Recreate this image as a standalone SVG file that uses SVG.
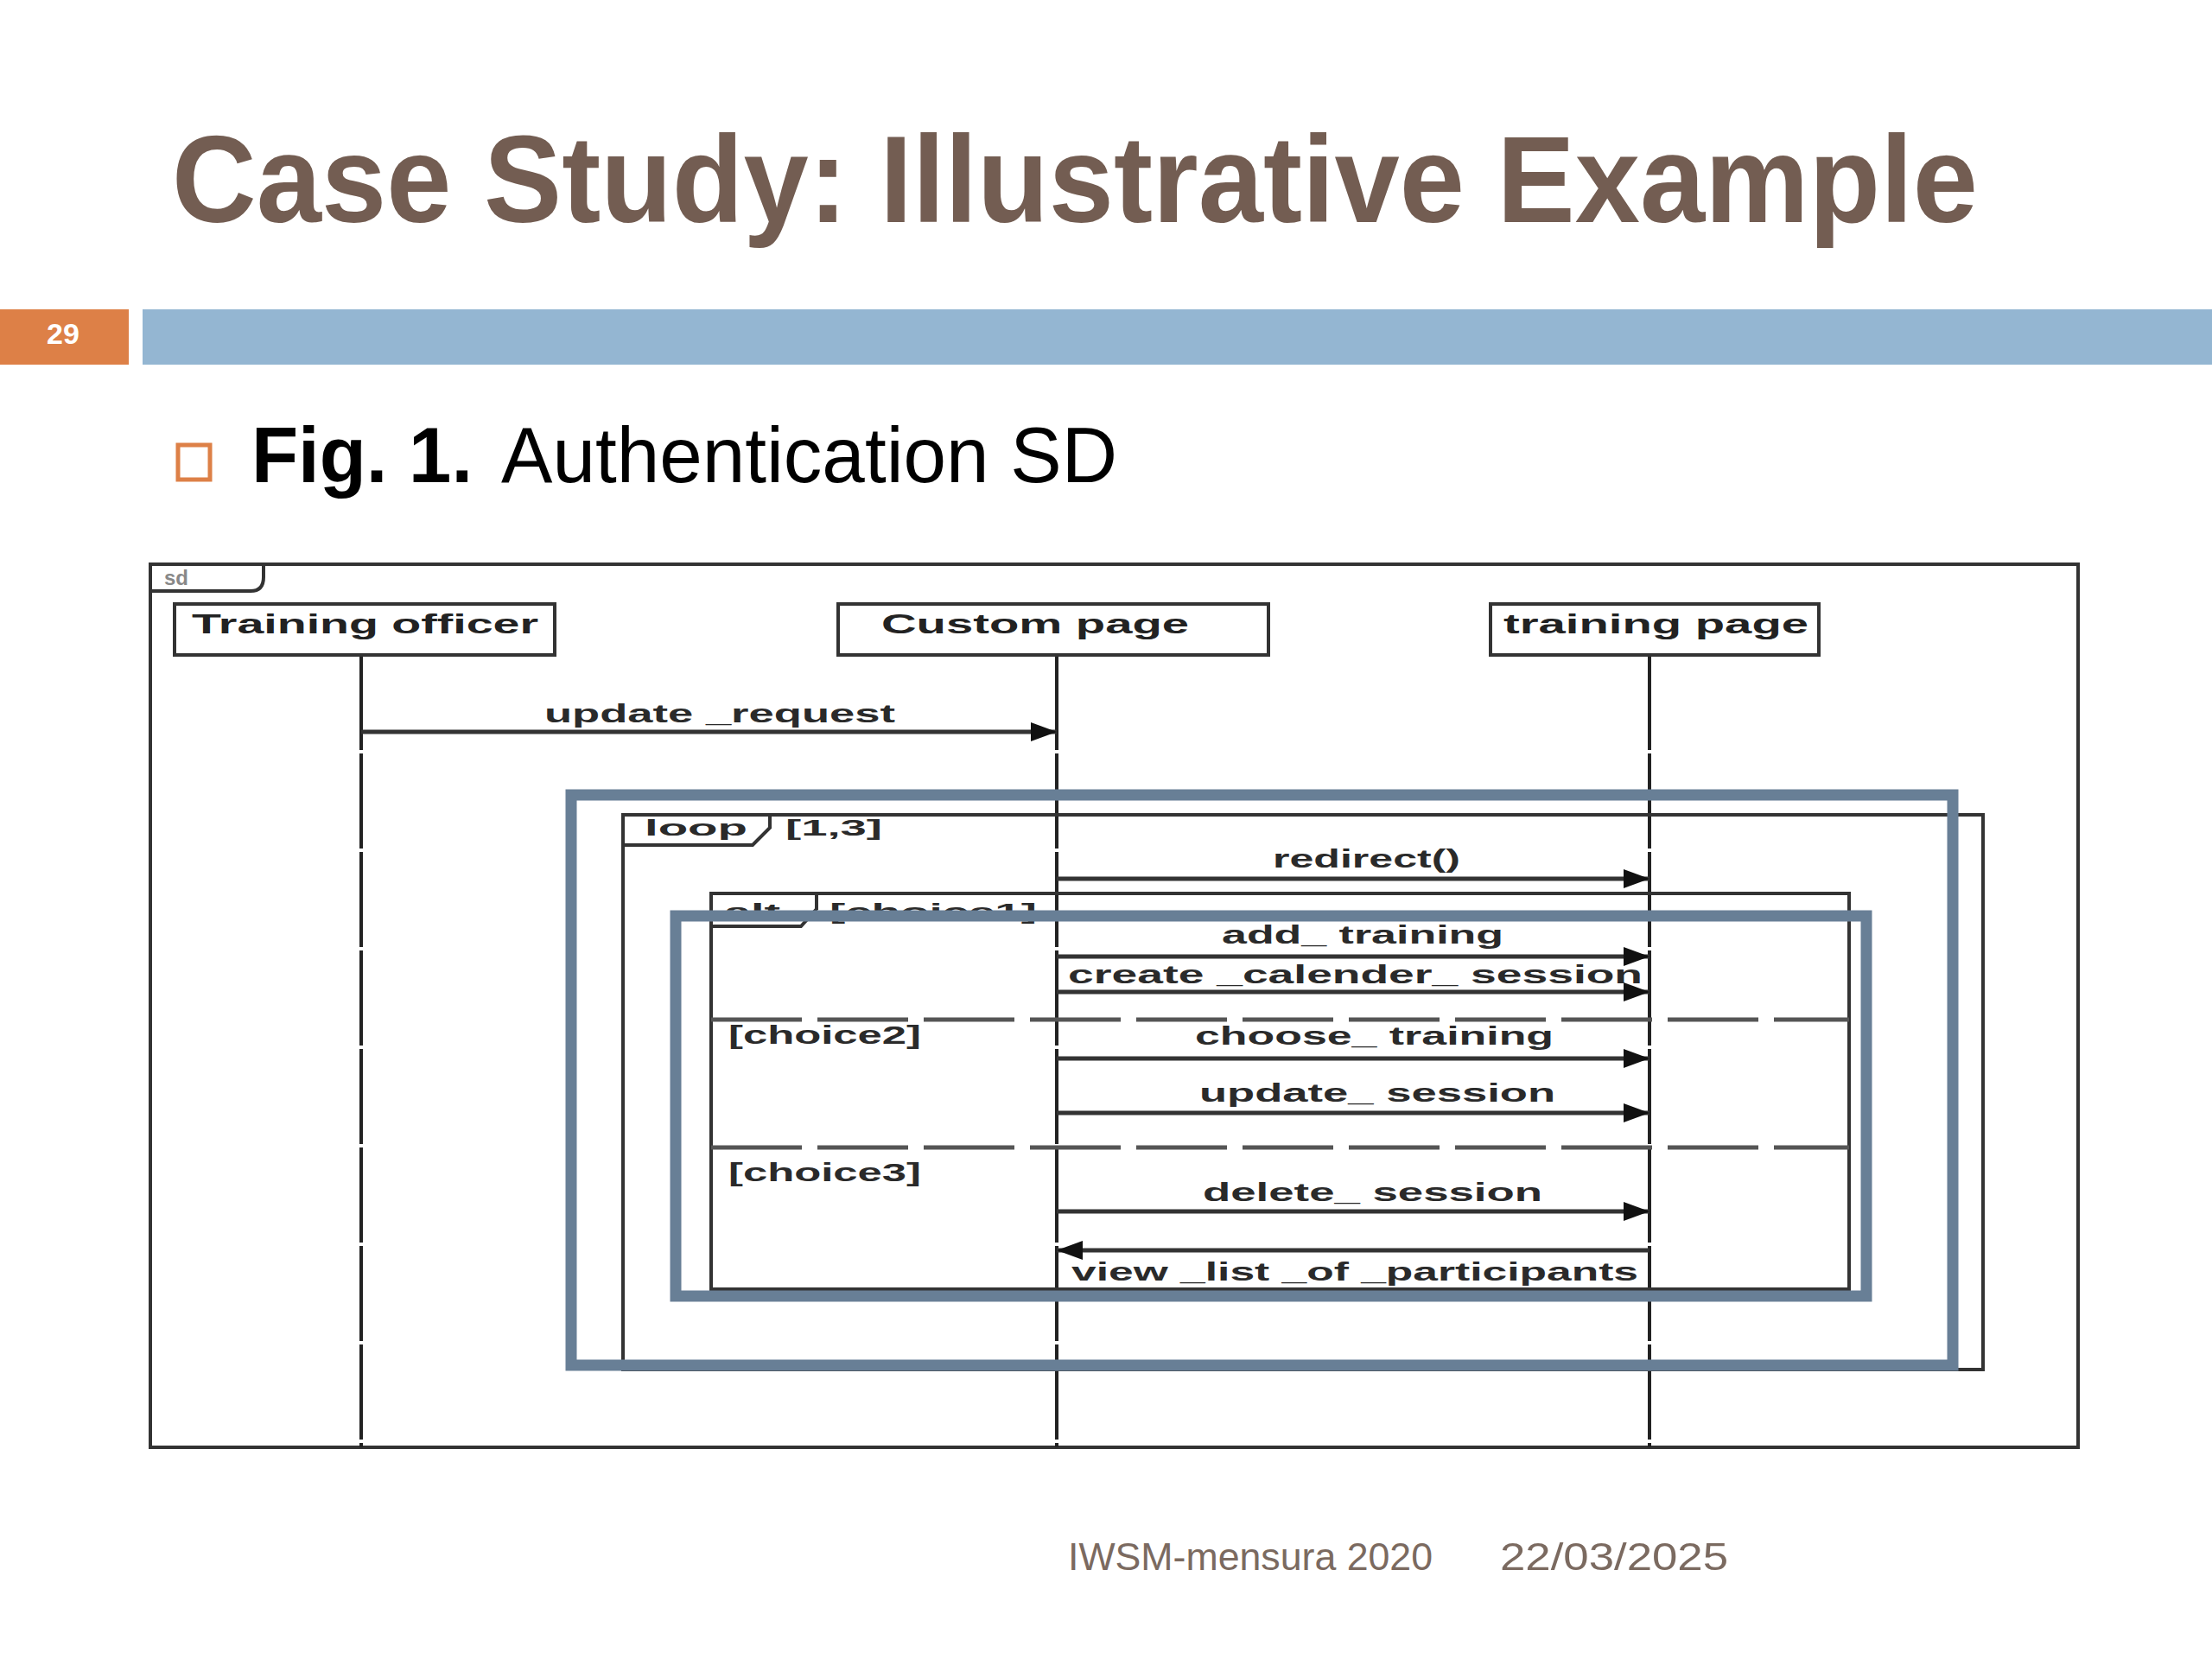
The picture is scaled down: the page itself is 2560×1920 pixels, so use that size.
<svg xmlns="http://www.w3.org/2000/svg" width="2560" height="1920" viewBox="0 0 2560 1920">
<style>
.title{font-family:"Liberation Sans",Arial,sans-serif;font-weight:bold;fill:#735D52;}
.foot{font-family:"Liberation Sans",Arial,sans-serif;fill:#7B6A60;font-size:44px;}
.lbl{font-family:"Liberation Sans",Arial,sans-serif;font-weight:bold;fill:#2a2a2a;font-size:30px;}
.tl{font-family:"Liberation Sans",Arial,sans-serif;font-weight:bold;fill:#2a2a2a;font-size:26px;}
.head{font-family:"Liberation Sans",Arial,sans-serif;font-weight:bold;fill:#222;font-size:32px;}
.frame{fill:none;stroke:#333;stroke-width:4;}
.tab{fill:#fff;stroke:#333;stroke-width:4;}
.box{fill:#fff;stroke:#333;stroke-width:4;}
.life{stroke:#222;stroke-width:4;stroke-dasharray:110 4;}
.msg{stroke:#333;stroke-width:5;fill:none;marker-end:url(#ah);}
.sep{stroke:#555;stroke-width:5;stroke-dasharray:105 18;}
.hl{fill:none;stroke:#687F96;stroke-width:13;}
</style>
<defs>
<marker id="ah" markerUnits="userSpaceOnUse" markerWidth="30" markerHeight="22" refX="30" refY="11" orient="auto">
<path d="M0,0 L30,11 L0,22 z" fill="#111"/>
</marker>
</defs>
<rect width="2560" height="1920" fill="#fff"/>

<g id="slide-title">
<text class="title" x="199" y="257" font-size="142" textLength="2090" lengthAdjust="spacingAndGlyphs">Case Study: Illustrative Example</text>
</g>
<g id="header-bar">
<rect x="0" y="358" width="149" height="64" fill="#DD8047"/>
<text x="73" y="398" text-anchor="middle" font-family="Liberation Sans,Arial,sans-serif" font-weight="bold" font-size="34" fill="#fff">29</text>
<rect x="165" y="358" width="2395" height="64" fill="#94B6D2"/>
</g>
<g id="bullet">
<rect x="206" y="515" width="37" height="40" fill="none" stroke="#DD8047" stroke-width="5"/>
<text x="291" y="558" font-family="Liberation Sans,Arial,sans-serif" font-weight="bold" font-size="90" fill="#000" textLength="256" lengthAdjust="spacingAndGlyphs">Fig. 1.</text>
<text x="580" y="558" font-family="Liberation Sans,Arial,sans-serif" font-size="90" fill="#000" textLength="713" lengthAdjust="spacingAndGlyphs">Authentication SD</text>
</g>

<g id="sd-frame">
<rect class="frame" x="174" y="653" width="2231" height="1022"/>
<path class="tab" d="M174,653 H305 V668 Q305,684 290,684 H174 Z"/>
<text x="190" y="677" font-family="Liberation Sans,Arial,sans-serif" font-weight="bold" font-size="24" fill="#888">sd</text>
</g>

<g id="lifelines">
<line class="life" x1="418" y1="758" x2="418" y2="1675"/>
<line class="life" x1="1223" y1="758" x2="1223" y2="1675"/>
<line class="life" x1="1909" y1="758" x2="1909" y2="1675"/>
</g>

<g id="training-officer">
<rect class="box" x="202" y="699" width="440" height="59"/>
<text class="head" x="222" y="733" textLength="401" lengthAdjust="spacingAndGlyphs">Training officer</text>
</g>
<g id="custom-page">
<rect class="box" x="970" y="699" width="498" height="59"/>
<text class="head" x="1020" y="733" textLength="356" lengthAdjust="spacingAndGlyphs">Custom page</text>
</g>
<g id="training-page">
<rect class="box" x="1725" y="699" width="380" height="59"/>
<text class="head" x="1740" y="733" textLength="353" lengthAdjust="spacingAndGlyphs">training page</text>
</g>

<g id="loop-frame">
<rect class="frame" x="721" y="943" width="1574" height="642"/>
<path class="tab" d="M721,943 H891 V958 L871,978 H721 Z"/>
<text class="tl" x="746" y="967" textLength="119" lengthAdjust="spacingAndGlyphs">loop</text>
<text class="tl" x="909" y="967" textLength="112" lengthAdjust="spacingAndGlyphs">[1,3]</text>
</g>

<g id="alt-frame">
<rect class="frame" x="823" y="1034" width="1317" height="458"/>
<path class="tab" d="M823,1034 H945 V1052 L927,1072 H823 Z"/>
<text class="tl" x="838" y="1064" textLength="65" lengthAdjust="spacingAndGlyphs">alt</text>
<text class="tl" x="960" y="1064" textLength="240" lengthAdjust="spacingAndGlyphs">[choice1]</text>
<line class="sep" x1="823" y1="1180" x2="2140" y2="1180"/>
<text class="lbl" x="843" y="1208" textLength="223" lengthAdjust="spacingAndGlyphs">[choice2]</text>
<line class="sep" x1="823" y1="1328" x2="2140" y2="1328"/>
<text class="lbl" x="843" y="1367" textLength="223" lengthAdjust="spacingAndGlyphs">[choice3]</text>
</g>

<g id="connectors">
<line class="msg" x1="418" y1="847" x2="1223" y2="847"/>
<text class="lbl" x="630" y="836" textLength="406" lengthAdjust="spacingAndGlyphs">update _request</text>
<line class="msg" x1="1223" y1="1017" x2="1909" y2="1017"/>
<text class="lbl" x="1473" y="1004" textLength="217" lengthAdjust="spacingAndGlyphs">redirect()</text>
<line class="msg" x1="1223" y1="1107" x2="1909" y2="1107"/>
<text class="lbl" x="1414" y="1092" textLength="326" lengthAdjust="spacingAndGlyphs">add_ training</text>
<line class="msg" x1="1223" y1="1148" x2="1909" y2="1148"/>
<text class="lbl" x="1236" y="1138" textLength="665" lengthAdjust="spacingAndGlyphs">create _calender_ session</text>
<line class="msg" x1="1223" y1="1225" x2="1909" y2="1225"/>
<text class="lbl" x="1383" y="1209" textLength="415" lengthAdjust="spacingAndGlyphs">choose_ training</text>
<line class="msg" x1="1223" y1="1288" x2="1909" y2="1288"/>
<text class="lbl" x="1388" y="1275" textLength="412" lengthAdjust="spacingAndGlyphs">update_ session</text>
<line class="msg" x1="1223" y1="1402" x2="1909" y2="1402"/>
<text class="lbl" x="1392" y="1390" textLength="393" lengthAdjust="spacingAndGlyphs">delete_ session</text>
<line class="msg" x1="1909" y1="1447" x2="1223" y2="1447"/>
<text class="lbl" x="1240" y="1482" textLength="656" lengthAdjust="spacingAndGlyphs">view _list _of _participants</text>
</g>

<g id="highlights">
<rect class="hl" x="661" y="920" width="1599" height="660"/>
<rect class="hl" x="782" y="1060" width="1378" height="440"/>
</g>

<g id="footer">
<text class="foot" x="1236" y="1817" textLength="422" lengthAdjust="spacingAndGlyphs">IWSM-mensura 2020</text>
<text class="foot" x="1736" y="1817" textLength="264" lengthAdjust="spacingAndGlyphs">22/03/2025</text>
</g>
</svg>
